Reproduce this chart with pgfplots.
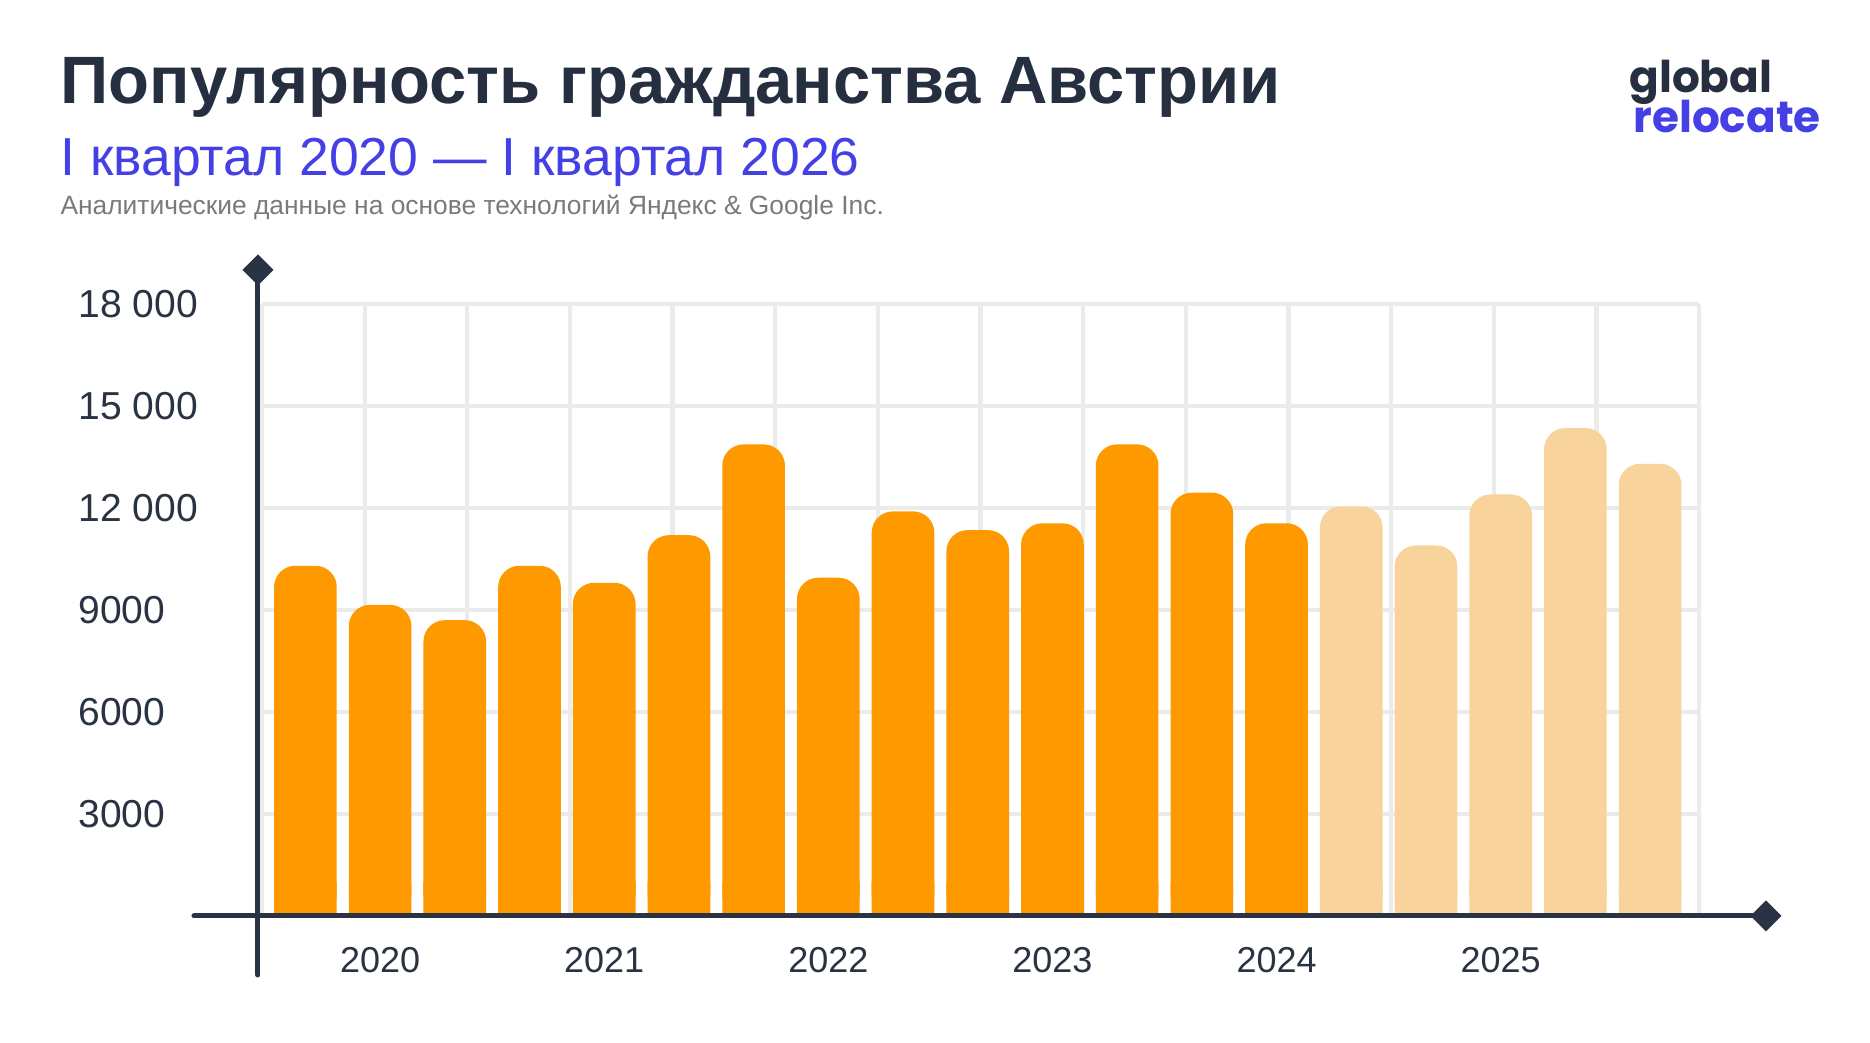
\documentclass[border=0pt]{standalone}
\usepackage{fontspec}
\setmainfont{Liberation Sans}
\newfontfamily\logofont{Poppins}
\usepackage{pgfplots}
\pgfplotsset{compat=1.18}
\usepackage{pgfplotstable}
\usetikzlibrary{arrows.meta}

\definecolor{titleC}{HTML}{252F3F}
\definecolor{blueC}{HTML}{4540E6}
\definecolor{grayC}{HTML}{7A7A7A}
\definecolor{axisC}{HTML}{2A3344}
\definecolor{gridC}{HTML}{EBEBEB}
\definecolor{orangeC}{HTML}{FF9900}
\definecolor{lightC}{HTML}{F8D49C}

\pgfplotstableread{
x v
0 10300
1 9150
2 8700
3 10300
4 9800
5 11200
6 13870
7 9950
8 11900
9 11350
10 11550
11 13870
12 12450
13 11550
}\orangeT

\pgfplotstableread{
x v
14 12050
15 10900
16 12400
17 14350
18 13300
}\lightT

\begin{document}
\begin{tikzpicture}
\path[use as bounding box] (0,0) rectangle (748pt,-417.2pt);

\node[anchor=base west, inner sep=0, text=titleC, font=\fontsize{26.8pt}{32pt}\selectfont\bfseries]
  at (60*0.4pt,-104*0.4pt) {Популярность гражданства Австрии};
\node[anchor=base west, inner sep=0, text=blueC, font=\fontsize{21.4pt}{26pt}\selectfont]
  at (60*0.4pt,-176*0.4pt) {I квартал 2020 — I квартал 2026};
\node[anchor=base west, inner sep=0, text=grayC, font=\fontsize{10.55pt}{12.5pt}\selectfont]
  at (60*0.4pt,-215*0.4pt) {Аналитические данные на основе технологий Яндекс \& Google Inc.};
\node[anchor=base west, inner sep=0, text=titleC, font=\logofont\bfseries\fontsize{17.5pt}{20pt}\selectfont]
  at (1629*0.4pt,-93*0.4pt) {global};
\node[anchor=base west, inner sep=0, text=blueC, font=\logofont\bfseries\fontsize{17.5pt}{20pt}\selectfont]
  at (1633*0.4pt,-133*0.4pt) {relocate};

\begin{axis}[
  at={(262*0.4pt,-916*0.4pt)}, anchor=south west,
  scale only axis, width=574.8pt, height=244.8pt,
  xmin=-0.58099, xmax=18.6547, ymin=0, ymax=18000,
  enlargelimits=false, clip=false,
  scaled y ticks=false, scaled x ticks=false,
  ybar,
  axis line style={draw=none},
  major tick length=0pt, minor tick length=0pt,
  ytick={3000,6000,9000,12000,15000,18000},
  yticklabels={3000,6000,9000,12 000,15 000,18 000},
  ymajorgrids=true,
  major grid style={gridC, line width=1.7pt},
  xtick={1,4,7,10,13,16},
  xticklabels={2020,2021,2022,2023,2024,2025},
  extra x ticks={-0.58099,0.79304,2.16707,3.54110,4.91513,6.28916,7.66319,9.03722,10.41125,11.78528,13.15931,14.53334,15.90737,17.28140,18.6547},
  extra x tick labels={},
  extra x tick style={xmajorgrids=true, major tick length=0pt},
  yticklabel style={anchor=west, xshift=-73.6pt, inner sep=0pt, text=axisC, font=\fontsize{15.6pt}{18pt}\selectfont},
  xticklabel style={anchor=north, yshift=-12.4pt, inner sep=0pt, text=axisC, font=\fontsize{14.4pt}{17pt}\selectfont},
]
\addplot[bar shift=0pt, bar width=0.839, fill=orangeC, draw=none, y filter/.expression={min(y,1000)}] table[x=x,y=v]{\orangeT};
\addplot[bar shift=0pt, bar width=0.839, fill=orangeC, draw=none, rounded corners=8.5pt] table[x=x,y=v]{\orangeT};
\addplot[bar shift=0pt, bar width=0.839, fill=lightC, draw=none, y filter/.expression={min(y,1000)}] table[x=x,y=v]{\lightT};
\addplot[bar shift=0pt, bar width=0.839, fill=lightC, draw=none, rounded corners=8.5pt] table[x=x,y=v]{\lightT};

\draw[axisC, line width=2pt, line cap=round, -{Turned Square[length=12.4pt,width=12.4pt]}]
  (axis cs:-1.4913,0) -- (axis cs:19.759,0);
\draw[axisC, line width=2pt, line cap=round, -{Turned Square[length=12.4pt,width=12.4pt]}]
  (axis cs:-0.6345,-1735) -- (axis cs:-0.6345,19456);
\end{axis}
\end{tikzpicture}
\end{document}
